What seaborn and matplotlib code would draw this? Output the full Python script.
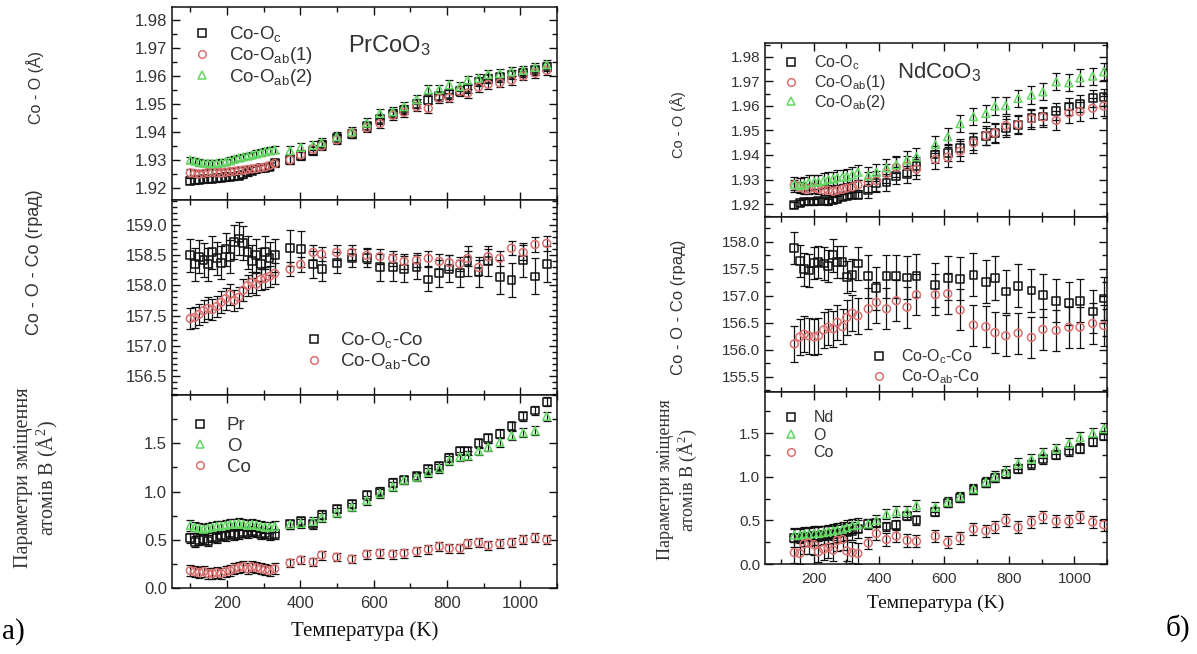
import numpy as np
import pandas as pd
import matplotlib
matplotlib.use("Agg")
import matplotlib.pyplot as plt
from matplotlib.lines import Line2D
from matplotlib.ticker import MultipleLocator
import seaborn as sns

# ---------------- PrCoO3 (a) ----------------
T_pr = [100, 112, 124, 136, 148, 160, 172, 184, 196, 208, 220, 232, 244, 256, 268, 280, 292, 304, 316, 330,
        372, 401, 435, 458, 499, 540, 581, 617, 652, 683, 717, 749, 779, 806, 835, 856, 886, 912, 944, 976,
        1008, 1040, 1072]

pr_coo_c = [1.9225, 1.9227, 1.9229, 1.9231, 1.9232, 1.9233, 1.9235, 1.9236, 1.9238, 1.9240, 1.9241, 1.9243,
            1.9248, 1.9255, 1.9262, 1.9266, 1.9270, 1.9272, 1.9276, 1.9290,
            1.9300, 1.9315, 1.9332, 1.9355, 1.9377, 1.9394, 1.9420, 1.9446, 1.9466, 1.9480, 1.9500, 1.9514,
            1.9528, 1.9535, 1.9547, 1.9556, 1.9580, 1.9590, 1.9595, 1.9605, 1.9612, 1.9620, 1.9632]
pr_coo_ab1 = [1.9254, 1.9252, 1.9250, 1.9252, 1.9255, 1.9256, 1.9255, 1.9254, 1.9256, 1.9258, 1.9260, 1.9262,
              1.9264, 1.9266, 1.9268, 1.9270, 1.9272, 1.9275, 1.9280, 1.9287,
              1.9300, 1.9318, 1.9338, 1.9350, 1.9372, 1.9396, 1.9415, 1.9430, 1.9460, 1.9470, 1.9490, 1.9484,
              1.9520, 1.9522, 1.9545, 1.9538, 1.9560, 1.9570, 1.9575, 1.9585, 1.9600, 1.9610, 1.9620]
pr_coo_ab2 = [1.9300, 1.9296, 1.9292, 1.9289, 1.9288, 1.9287, 1.9288, 1.9290, 1.9293, 1.9298, 1.9303, 1.9307,
              1.9311, 1.9314, 1.9318, 1.9322, 1.9326, 1.9330, 1.9333, 1.9336,
              1.9333, 1.9345, 1.9352, 1.9362, 1.9383, 1.9400, 1.9432, 1.9466, 1.9472, 1.9490, 1.9515, 1.9550,
              1.9552, 1.9568, 1.9562, 1.9585, 1.9592, 1.9605, 1.9608, 1.9615, 1.9620, 1.9630, 1.9640]
pr_coo_err = [0.0012] * 20 + [0.0016] * 23

pr_ang_c = [158.50, 158.35, 158.48, 158.42, 158.35, 158.55, 158.45, 158.38, 158.60, 158.48, 158.72, 158.78,
            158.70, 158.55, 158.40, 158.50, 158.35, 158.55, 158.45, 158.50,
            158.62, 158.60, 158.35, 158.28, 158.38, 158.45, 158.45, 158.30, 158.30, 158.27, 158.30, 158.10,
            158.20, 158.28, 158.20, 158.40, 158.22, 158.40, 158.14, 158.09, 158.42, 158.15, 158.35]
pr_ang_c_err = [0.28] * 20 + [0.30, 0.30, 0.22, 0.20, 0.18, 0.15, 0.15, 0.22, 0.22, 0.22, 0.20, 0.20,
                              0.22, 0.22, 0.22, 0.25, 0.25, 0.25, 0.28, 0.28, 0.28, 0.30, 0.30]
pr_ang_ab = [157.45, 157.47, 157.52, 157.58, 157.62, 157.60, 157.65, 157.72, 157.78, 157.85, 157.75, 157.80,
             157.92, 158.00, 158.05, 158.02, 158.10, 158.12, 158.15, 158.20,
             158.27, 158.35, 158.55, 158.52, 158.55, 158.55, 158.50, 158.48, 158.45, 158.40, 158.42, 158.45,
             158.40, 158.38, 158.36, 158.45, 158.30, 158.48, 158.45, 158.62, 158.55, 158.68, 158.70]
pr_ang_ab_err = [0.18] * 20 + [0.12] * 23

pr_u_pr = [0.52, 0.48, 0.50, 0.51, 0.49, 0.53, 0.52, 0.55, 0.54, 0.57, 0.55, 0.56, 0.58, 0.57, 0.59, 0.58,
           0.56, 0.57, 0.55, 0.56,
           0.66, 0.69, 0.66, 0.76, 0.82, 0.87, 0.96, 1.00, 1.09, 1.12, 1.16, 1.23, 1.26, 1.35, 1.42, 1.42,
           1.50, 1.55, 1.60, 1.68, 1.78, 1.84, 1.93]
pr_u_o = [0.65, 0.63, 0.62, 0.61, 0.62, 0.63, 0.64, 0.64, 0.65, 0.66, 0.66, 0.67, 0.66, 0.65, 0.66, 0.65,
          0.64, 0.63, 0.63, 0.64,
          0.66, 0.67, 0.69, 0.73, 0.78, 0.84, 0.91, 0.98, 1.05, 1.12, 1.15, 1.20, 1.24, 1.32, 1.36, 1.37,
          1.42, 1.46, 1.51, 1.58, 1.61, 1.63, 1.78]
pr_u_co = [0.18, 0.17, 0.16, 0.17, 0.15, 0.15, 0.16, 0.15, 0.17, 0.18, 0.20, 0.21, 0.22, 0.20, 0.22, 0.21,
           0.20, 0.19, 0.18, 0.20,
           0.26, 0.29, 0.27, 0.34, 0.32, 0.30, 0.35, 0.36, 0.35, 0.36, 0.38, 0.40, 0.43, 0.41, 0.41, 0.46,
           0.47, 0.44, 0.46, 0.47, 0.50, 0.52, 0.50]
pr_u_err = [0.055] * 20 + [0.045] * 23

# ---------------- NdCoO3 (b) ----------------
T_nd = [140, 157, 170, 184, 201, 214, 230, 244, 259, 272, 288, 301, 318, 335,
        367, 392, 423, 453, 486, 515, 573, 611, 649, 690, 728, 756, 789, 827, 868, 903, 944, 983, 1017,
        1056, 1090]

nd_coo_c = [1.9196, 1.9205, 1.9210, 1.9210, 1.9210, 1.9211, 1.9212, 1.9210, 1.9215, 1.9220, 1.9228, 1.9233,
            1.9236, 1.9237,
            1.9258, 1.9284, 1.9288, 1.9315, 1.9321, 1.9355, 1.9402, 1.9409, 1.9429, 1.9456, 1.9476, 1.9490,
            1.9510, 1.9524, 1.9550, 1.9557, 1.9578, 1.9598, 1.9609, 1.9631, 1.9635]
nd_coo_ab1 = [1.9278, 1.9268, 1.9262, 1.9262, 1.9266, 1.9262, 1.9258, 1.9256, 1.9252, 1.9256, 1.9260, 1.9265,
              1.9270, 1.9278,
              1.9290, 1.9295, 1.9325, 1.9350, 1.9355, 1.9342, 1.9382, 1.9391, 1.9416, 1.9450, 1.9479, 1.9490,
              1.9520, 1.9524, 1.9548, 1.9555, 1.9541, 1.9571, 1.9577, 1.9591, 1.9600]
nd_coo_ab2 = [1.9280, 1.9275, 1.9280, 1.9288, 1.9290, 1.9290, 1.9295, 1.9300, 1.9302, 1.9308, 1.9310, 1.9312,
              1.9320, 1.9330,
              1.9315, 1.9330, 1.9348, 1.9360, 1.9380, 1.9393, 1.9443, 1.9475, 1.9528, 1.9557, 1.9570, 1.9600,
              1.9602, 1.9631, 1.9645, 1.9658, 1.9699, 1.9695, 1.9715, 1.9722, 1.9740]
nd_coo_c_err = [0.0012] * 14 + [0.0035] * 21
nd_coo_ab1_err = [0.0020] * 14 + [0.0040] * 21
nd_coo_ab2_err = [0.0030] * 14 + [0.0035] * 21

nd_ang_c = [157.89, 157.64, 157.49, 157.47, 157.61, 157.63, 157.60, 157.55, 157.75, 157.63, 157.63, 157.35,
            157.39, 157.60,
            157.36, 157.14, 157.36, 157.36, 157.34, 157.37, 157.20, 157.33, 157.32, 157.39, 157.26, 157.33,
            157.08, 157.19, 157.10, 157.01, 156.91, 156.86, 156.91, 156.71, 156.95]
nd_ang_ab = [156.11, 156.24, 156.29, 156.26, 156.24, 156.26, 156.37, 156.42, 156.39, 156.51, 156.43, 156.60,
             156.68, 156.63,
             156.76, 156.88, 156.76, 156.91, 156.79, 157.02, 157.02, 157.04, 156.74, 156.46, 156.43, 156.32,
             156.26, 156.31, 156.23, 156.38, 156.36, 156.42, 156.42, 156.49, 156.45]
nd_ang_c_err = [0.30] * 14 + [0.40] * 21
nd_ang_ab_err = [0.33] * 14 + [0.38] * 21

nd_u_nd = [0.30, 0.30, 0.31, 0.31, 0.32, 0.32, 0.33, 0.33, 0.34, 0.35, 0.36, 0.37, 0.38, 0.40,
           0.46, 0.47, 0.43, 0.45, 0.55, 0.50, 0.60, 0.70, 0.76, 0.85, 0.93, 0.99, 1.03, 1.09, 1.14, 1.20,
           1.25, 1.29, 1.32, 1.40, 1.47]
nd_u_o = [0.33, 0.33, 0.34, 0.34, 0.35, 0.35, 0.36, 0.37, 0.38, 0.39, 0.40, 0.42, 0.44, 0.45,
          0.46, 0.50, 0.57, 0.60, 0.60, 0.67, 0.65, 0.71, 0.77, 0.86, 0.94, 1.00, 1.06, 1.15, 1.20, 1.27,
          1.32, 1.38, 1.45, 1.50, 1.55]
nd_u_co = [0.13, 0.12, 0.23, 0.24, 0.22, 0.14, 0.17, 0.19, 0.16, 0.27, 0.28, 0.15, 0.13, 0.12,
           0.24, 0.35, 0.28, 0.32, 0.27, 0.26, 0.32, 0.25, 0.30, 0.40, 0.38, 0.42, 0.50, 0.42, 0.48, 0.54,
           0.49, 0.49, 0.54, 0.48, 0.45]
nd_u_nd_err = [0.10] * 14 + [0.05] * 21
nd_u_o_err = [0.08] * 14 + [0.06] * 21
nd_u_co_err = [0.12] * 14 + [0.07] * 21

# ---------------- styling ----------------
sns.set_theme(style="ticks")
plt.rcParams["font.family"] = ["Liberation Sans", "DejaVu Sans"]
plt.rcParams["mathtext.default"] = "regular"

BLACK = "#111111"
RED = "#dc6f6f"
GREEN = "#62d862"
TXT = "#333333"
SERIF = ["Liberation Serif", "DejaVu Serif"]

W, H = 1197, 654
fig = plt.figure(figsize=(W / 100, H / 100), dpi=100)
fig.patch.set_facecolor("white")


def px_axes(x0, x1, y0, y1):
    return fig.add_axes([x0 / W, 1 - y1 / H, (x1 - x0) / W, (y1 - y0) / H])


def draw(ax, T, series):
    for y, err, marker, color in series:
        df = pd.DataFrame({"T": T, "v": y, "e": err})
        ax.errorbar(df["T"], df["v"], yerr=df["e"], fmt="none", ecolor=BLACK, elinewidth=0.9,
                    capsize=2.6, capthick=0.9, zorder=2)
        sns.scatterplot(data=df, x="T", y="v", marker=marker, s=32, facecolor="none",
                        edgecolor=color, linewidth=1.1, ax=ax, zorder=3, legend=False)


def style(ax, ylim, ymaj, ymin, ticklabels, fs):
    ax.set_xlim(50, 1100)
    ax.set_ylim(*ylim)
    ax.xaxis.set_major_locator(MultipleLocator(200))
    ax.xaxis.set_minor_locator(MultipleLocator(100))
    ax.yaxis.set_major_locator(MultipleLocator(ymaj))
    ax.yaxis.set_minor_locator(MultipleLocator(ymin))
    ax.tick_params(which="both", direction="in", top=True, right=True, colors=BLACK,
                   labelcolor=TXT, labelsize=fs, width=1.0)
    ax.tick_params(which="major", length=6)
    ax.tick_params(which="minor", length=3.5)
    ax.tick_params(axis="x", labelbottom=ticklabels, pad=6)
    ax.set_xlabel("")
    ax.set_ylabel("")
    for s in ax.spines.values():
        s.set_color(BLACK)
        s.set_linewidth(1.1)
    ax.set_facecolor("white")


def legend(ax, items, anchor, fs, spacing):
    handles = [Line2D([], [], linestyle="none", marker=m, markersize=5.5, markerfacecolor="none",
                      markeredgecolor=c, markeredgewidth=1.1) for m, c, _ in items]
    labels = [l for _, _, l in items]
    ax.legend(handles, labels, loc="upper left", bbox_to_anchor=anchor, frameon=False, fontsize=fs,
              handlelength=1.0, handletextpad=0.9, labelspacing=spacing, borderaxespad=0,
              labelcolor=TXT)


# ---- left (PrCoO3) ----
L0, L1 = 172, 557
a1 = px_axes(L0, L1, 7, 200)
a2 = px_axes(L0, L1, 200, 395)
a3 = px_axes(L0, L1, 395, 588)

draw(a1, T_pr, [(pr_coo_c, pr_coo_err, "s", BLACK), (pr_coo_ab1, pr_coo_err, "o", RED),
                (pr_coo_ab2, pr_coo_err, "^", GREEN)])
style(a1, (1.9157, 1.9846), 0.01, 0.005, False, 12)
legend(a1, [("s", BLACK, "Co-O$_c$"), ("o", RED, "Co-O$_{ab}$(1)"), ("^", GREEN, "Co-O$_{ab}$(2)")],
       (0.035, 0.95), 13.5, 0.05)
a1.text(0.565, 0.80, "PrCoO$_3$", transform=a1.transAxes, ha="center", va="center", fontsize=17, color=TXT)

draw(a2, T_pr, [(pr_ang_c, pr_ang_c_err, "s", BLACK), (pr_ang_ab, pr_ang_ab_err, "o", RED)])
style(a2, (156.18, 159.42), 0.5, 0.1, False, 12)
legend(a2, [("s", BLACK, "Co-O$_c$-Co"), ("o", RED, "Co-O$_{ab}$-Co")], (0.325, 0.37), 13.5, 0.05)

draw(a3, T_pr, [(pr_u_pr, pr_u_err, "s", BLACK), (pr_u_o, pr_u_err, "^", GREEN), (pr_u_co, pr_u_err, "o", RED)])
style(a3, (0.0, 2.0), 0.5, 0.25, True, 12)
a3.set_yticks([0.0, 0.5, 1.0, 1.5])
legend(a3, [("s", BLACK, "Pr"), ("^", GREEN, "O"), ("o", RED, "Co")], (0.03, 0.925), 13.5, 0.2)
a3.set_xlabel("Температура (K)", fontsize=15, family=SERIF, color="#111111", labelpad=7)

# ---- right (NdCoO3) ----
R0, R1 = 765, 1107
b1 = px_axes(R0, R1, 43, 217)
b2 = px_axes(R0, R1, 217, 392)
b3 = px_axes(R0, R1, 392, 564)

draw(b1, T_nd, [(nd_coo_c, nd_coo_c_err, "s", BLACK), (nd_coo_ab1, nd_coo_ab1_err, "o", RED),
                (nd_coo_ab2, nd_coo_ab2_err, "^", GREEN)])
style(b1, (1.9147, 1.9857), 0.01, 0.005, False, 11)
legend(b1, [("s", BLACK, "Co-O$_c$"), ("o", RED, "Co-O$_{ab}$(1)"), ("^", GREEN, "Co-O$_{ab}$(2)")],
       (0.035, 0.975), 11.5, 0.05)
b1.text(0.51, 0.83, "NdCoO$_3$", transform=b1.transAxes, ha="center", va="center", fontsize=16, color=TXT)

draw(b2, T_nd, [(nd_ang_c, nd_ang_c_err, "s", BLACK), (nd_ang_ab, nd_ang_ab_err, "o", RED)])
style(b2, (155.22, 158.46), 0.5, 0.25, False, 11)
legend(b2, [("s", BLACK, "Co-O$_c$-Co"), ("o", RED, "Co-O$_{ab}$-Co")], (0.29, 0.29), 11.5, 0.05)

draw(b3, T_nd, [(nd_u_nd, nd_u_nd_err, "s", BLACK), (nd_u_o, nd_u_o_err, "^", GREEN),
                (nd_u_co, nd_u_co_err, "o", RED)])
style(b3, (0.0, 1.97), 0.5, 0.25, True, 11)
b3.set_yticks([0.0, 0.5, 1.0, 1.5])
legend(b3, [("s", BLACK, "Nd"), ("^", GREEN, "O"), ("o", RED, "Co")], (0.035, 0.93), 11.5, 0.15)
b3.set_xlabel("Температура (K)", fontsize=14, family=SERIF, color="#111111", labelpad=6)

# ---- y labels and panel letters ----
def ylab(x, y, s, fs, fam=None):
    kw = dict(rotation=90, ha="center", va="center", fontsize=fs, color=TXT, linespacing=1.1)
    if fam:
        kw["family"] = fam
    fig.text(x / W, 1 - y / H, s, **kw)

ylab(35, 88, "Co - O (Å)", 11.5)
ylab(35, 262, "Co - O - Co (град)", 13)
ylab(37, 478, "Параметри зміщення\nатомів B (Å$^2$)", 14.5, SERIF)
ylab(678, 125, "Co - O (Å)", 10.5)
ylab(678, 307, "Co - O - Co (град)", 12)
ylab(678, 480, "Параметри зміщення\nатомів B (Å$^2$)", 13, SERIF)

fig.text(2 / W, 1 - 632 / H, "а)", fontsize=21, family=SERIF, color="black", ha="left", va="center")
fig.text(1190 / W, 1 - 628 / H, "б)", fontsize=21, family=SERIF, color="black", ha="right", va="center")

fig.savefig("out.png", dpi=100, facecolor="white")
